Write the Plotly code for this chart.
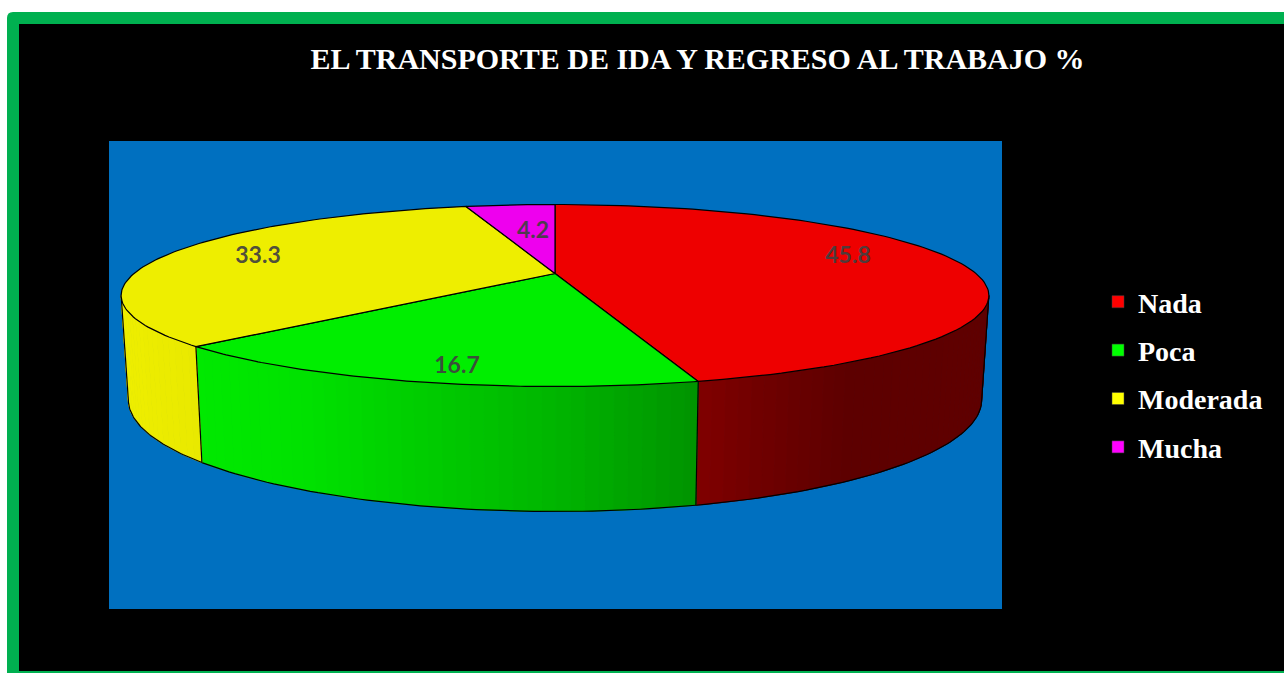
import numpy as np
import plotly.graph_objects as go

TITLE = "EL TRANSPORTE DE IDA Y REGRESO AL TRABAJO %"
categories = ["Nada", "Poca", "Moderada", "Mucha"]
values = [45.8, 16.7, 33.3, 4.2]
value_labels = ["45.8", "16.7", "33.3", "4.2"]

TOP_COLORS = [(238, 0, 0), (0, 238, 0), (238, 238, 0), (238, 0, 238)]
LEGEND_COLORS = ["#FF0000", "#00FF00", "#FFFF00", "#FF00FF"]
LABEL_ANCHORS = [(848, 257), (457, 367), (258, 257), (533, 232)]

# Perspective model of the 3-D pie (pixel space of the page)
CX, K = 555.0, 0.2418
TOP = dict(a=421.0, b=85.7, y0=273.5)
BOT = dict(a=414.0, b=105.0, y0=373.0)
SIL = np.degrees(np.arcsin(K))


def project(theta_deg, plane, r=1.0):
    t = np.radians(theta_deg)
    u, v = r * np.sin(t), r * np.cos(t)
    w = 1 + K * v
    return CX + plane["a"] * u / w, plane["y0"] - plane["b"] * v / w


def wall_shade(idx, x):
    if idx == 0:
        return np.interp(x, [696, 760, 850, 985], [0.54, 0.47, 0.39, 0.40])
    return np.interp(x, [121, 300, 450, 555, 696], [1.0, 0.95, 0.84, 0.76, 0.62])


def rgb(c, s=1.0):
    return "rgb({},{},{})".format(*[int(round(min(255, v * s))) for v in c])


fig = go.Figure()


def poly(xs, ys, fill, line=None, width=1.0):
    fig.add_trace(go.Scatter(x=xs, y=ys, mode="lines", fill="toself", fillcolor=fill,
                             line=dict(color=line or fill, width=width),
                             hoverinfo="skip", showlegend=False))


def stroke(xs, ys, width=1.2):
    fig.add_trace(go.Scatter(x=xs, y=ys, mode="lines", line=dict(color="#000000", width=width),
                             hoverinfo="skip", showlegend=False))


edges = np.concatenate([[0], np.cumsum(values)]) / sum(values) * 360.0
vis_lo, vis_hi = 90 + SIL, 270 - SIL

# side walls
for i in range(len(values)):
    lo, hi = max(edges[i], vis_lo), min(edges[i + 1], vis_hi)
    if hi <= lo:
        continue
    steps = np.linspace(lo, hi, max(2, int((hi - lo) / 1.5) + 1))
    for a, b in zip(steps[:-1], steps[1:]):
        th = np.array([a, b])
        xt, yt = project(th, TOP)
        xb, yb = project(th, BOT)
        s = wall_shade(i, (xt.mean()))
        poly([xt[0], xt[1], xb[1], xb[0], xt[0]], [yt[0], yt[1], yb[1], yb[0], yt[0]], rgb(TOP_COLORS[i], s))
    full = np.linspace(lo, hi, 60)
    xb, yb = project(full, BOT)
    stroke(xb, yb)

# wall edges
for th in [vis_lo, vis_hi] + [e for e in edges if vis_lo < e < vis_hi]:
    xt, yt = project(th, TOP)
    xb, yb = project(th, BOT)
    stroke([xt, xb], [yt, yb])

# top faces
for i in range(len(values)):
    th = np.linspace(edges[i], edges[i + 1], 120)
    xs, ys = project(th, TOP)
    xs = np.concatenate([[CX], xs, [CX]])
    ys = np.concatenate([[TOP["y0"]], ys, [TOP["y0"]]])
    poly(xs, ys, rgb(TOP_COLORS[i]), line="#000000", width=1.2)

# legend entries
for name, col in zip(categories, LEGEND_COLORS):
    fig.add_trace(go.Scatter(x=[None], y=[None], mode="markers", name=name, legendgroup=name,
                             marker=dict(symbol="square", size=12, color=col,
                                         line=dict(color="#404040", width=0.5))))

# value labels
fig.add_trace(go.Scatter(x=[p[0] for p in LABEL_ANCHORS], y=[p[1] for p in LABEL_ANCHORS],
                         mode="text", text=value_labels, textposition="middle center",
                         textfont=dict(family="Lato", size=23, color="rgba(64,64,64,0.92)", weight="bold"),
                         hoverinfo="skip", showlegend=False))

shapes = [
    dict(type="path", path="M 7 673 L 7 18 Q 7 12 13 12 L 1284 12 L 1284 673 Z",
         fillcolor="#00B050", line=dict(width=0), layer="below"),
    dict(type="rect", x0=19, x1=1284, y0=24, y1=671, fillcolor="#000000", line=dict(width=0), layer="below"),
    dict(type="rect", x0=109, x1=1002, y0=141, y1=609, fillcolor="#0070C0", line=dict(width=0), layer="below"),
]

fig.update_layout(
    width=1284, height=673, autosize=False,
    margin=dict(l=0, r=0, t=0, b=0),
    paper_bgcolor="#FFFFFF", plot_bgcolor="rgba(0,0,0,0)",
    xaxis=dict(range=[0, 1284], visible=False, fixedrange=True),
    yaxis=dict(range=[673, 0], visible=False, fixedrange=True),
    shapes=shapes,
    title=dict(text=TITLE, x=697.5 / 1284, xanchor="center", xref="paper",
               y=1 - 58 / 673, yanchor="middle", yref="container",
               font=dict(family="Liberation Serif", size=30, color="#FFFFFF", weight="bold")),
    legend=dict(x=1098 / 1284, y=1 - 277 / 673, xanchor="left", yanchor="top",
                bgcolor="rgba(0,0,0,0)", borderwidth=0, traceorder="grouped", tracegroupgap=9,
                font=dict(family="Liberation Serif", size=28, color="#FFFFFF", weight="bold"),
                itemclick=False, itemdoubleclick=False),
    hovermode=False,
)

fig.write_html("out.html", config=dict(displayModeBar=False),
               post_script="document.body.style.margin='0';document.body.style.overflow='hidden';")
